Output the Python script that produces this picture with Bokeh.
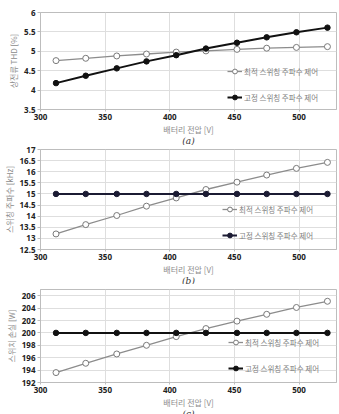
from bokeh.plotting import figure
from bokeh.layouts import column
from bokeh.models import FixedTicker, NumeralTickFormatter, Legend, LegendItem, Title, Range1d
from bokeh.embed import file_html
from bokeh.resources import INLINE

voltage = [312, 335, 359, 382, 405, 428, 452, 475, 498, 522]
x_ticks = [300, 350, 400, 450, 500]

thd_opt = [4.76, 4.82, 4.88, 4.93, 4.98, 5.01, 5.05, 5.08, 5.10, 5.12]
thd_fix = [4.18, 4.37, 4.56, 4.74, 4.90, 5.07, 5.22, 5.36, 5.49, 5.61]
thd_ticks = [3.5, 4, 4.5, 5, 5.5, 6]

fsw_opt = [13.2, 13.62, 14.03, 14.45, 14.82, 15.2, 15.53, 15.85, 16.15, 16.42]
fsw_fix = [15, 15, 15, 15, 15, 15, 15, 15, 15, 15]
fsw_ticks = [12.5, 13, 13.5, 14, 14.5, 15, 15.5, 16, 16.5, 17]

loss_opt = [193.6, 195.1, 196.6, 198.0, 199.4, 200.7, 201.9, 203.0, 204.1, 205.1]
loss_fix = [200, 200, 200, 200, 200, 200, 200, 200, 200, 200]
loss_ticks = [192, 194, 196, 198, 200, 202, 204, 206]

x_title = "배터리 전압 [V]"
label_opt = "최적 스위칭 주파수 제어"
label_fix = "고정 스위칭 주파수 제어"

KR = "Noto Sans CJK KR"


def panel(height, top, bottom, yr, yticks, ytitle, y_opt, y_fix, fix_color, tag, leg_x, leg_y):
    p = figure(width=339, height=height, x_range=Range1d(300, 529), y_range=Range1d(*yr),
               output_backend="svg", toolbar_location=None,
               min_border_left=33, min_border_right=3, min_border_top=top, min_border_bottom=bottom)
    p.outline_line_color = "#bdbdbd"
    p.background_fill_color = "white"
    p.border_fill_color = "white"

    xa = p.xaxis[0]
    xa.ticker = FixedTicker(ticks=x_ticks)
    xa.axis_label = x_title
    ya = p.yaxis[0]
    ya.ticker = FixedTicker(ticks=yticks)
    ya.formatter = NumeralTickFormatter(format="0.[0]")
    ya.axis_label = ytitle
    for a in (xa, ya):
        a.major_label_text_font = "Noto Sans"
        a.major_label_text_font_size = "8px"
        a.major_label_text_font_style = "bold"
        a.major_label_text_color = "#222222"
        a.axis_label_text_font = KR
        a.axis_label_text_font_size = "8px"
        a.axis_label_text_font_style = "normal"
        a.axis_label_text_color = "#8c8c8c"
        a.axis_label_standoff = 2
        a.major_label_standoff = 2
        a.major_tick_in = 0
        a.major_tick_out = 3
        a.minor_tick_in = 0
        a.minor_tick_out = 0
        a.axis_line_color = "#bdbdbd"
        a.major_tick_line_color = "#bdbdbd"
    xa.major_tick_out = 2
    xa.axis_label_standoff = 1

    p.xgrid.ticker = FixedTicker(ticks=x_ticks)
    p.ygrid.ticker = FixedTicker(ticks=yticks)
    p.xgrid.grid_line_color = "#dedede"
    p.ygrid.grid_line_color = "#dedede"

    l1 = p.line(voltage, y_opt, line_color="#8c8c8c", line_width=1.3)
    s1 = p.scatter(voltage, y_opt, marker="circle", size=6, fill_color="white",
                   line_color="#7a7a7a", line_width=1)
    l2 = p.line(voltage, y_fix, line_color=fix_color, line_width=2)
    s2 = p.scatter(voltage, y_fix, marker="circle", size=5.5, fill_color=fix_color,
                   line_color=fix_color)

    leg = Legend(items=[LegendItem(label=label_opt, renderers=[l1, s1]),
                        LegendItem(label=label_fix, renderers=[l2, s2])],
                 location=(leg_x, leg_y), padding=0, margin=0, spacing=14,
                 glyph_width=15, glyph_height=12, label_height=12, label_standoff=2,
                 border_line_color=None, background_fill_alpha=0,
                 label_text_font=KR, label_text_font_size="7.5px", label_text_color="#808080")
    p.add_layout(leg)

    p.add_layout(Title(text=tag, align="center", text_font="DejaVu Serif",
                       text_font_style="italic", text_font_size="9px", text_color="#333333",
                       standoff=-8, offset=0), "below")
    return p


pa = panel(145, 12, 36, (3.5, 6), thd_ticks, "상전류 THD [%]", thd_opt, thd_fix, "#111111", "(a)", 187, 6)
pb = panel(139, 4, 35, (12.5, 17), fsw_ticks, "스위칭 주파수 [kHz]", fsw_opt, fsw_fix, "#1b1b33", "(b)", 182, 8)
pc = panel(130, 5, 29, (192, 207), loss_ticks, "스위치 손실 [W]", loss_opt, loss_fix, "#111111", "(c)", 188, 8)

layout = column(pa, pb, pc, spacing=0)
open("out.html", "w").write(file_html(layout, INLINE))
